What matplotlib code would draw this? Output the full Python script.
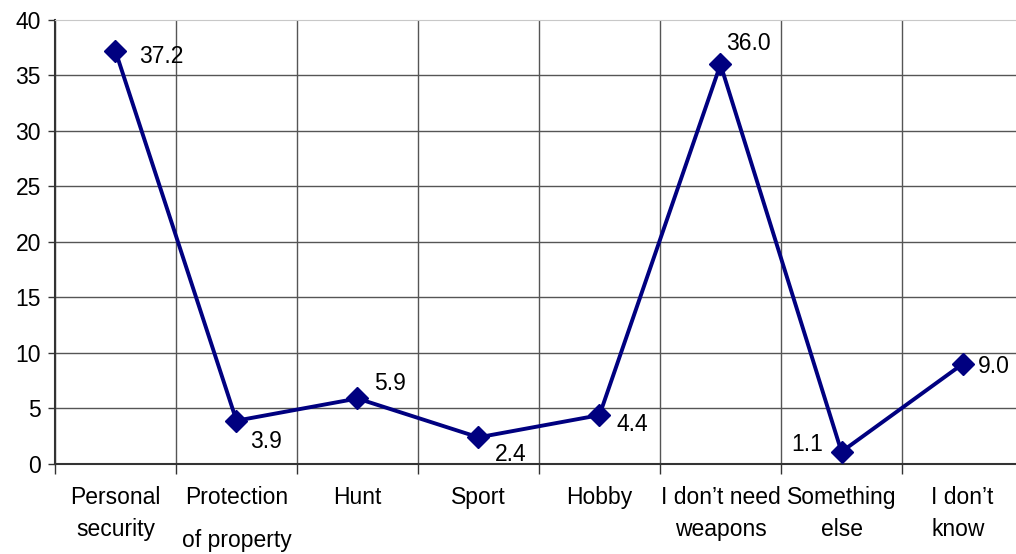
import numpy as np
import matplotlib
matplotlib.use("Agg")
from matplotlib import pyplot as plt

plt.rcParams['font.family'] = ['Liberation Sans', 'DejaVu Sans']

categories = ["Personal\nsecurity", "Protection\nof property", "Hunt", "Sport", "Hobby",
              "I don\u2019t need\nweapons", "Something\nelse", "I don\u2019t\nknow"]
values = [37.2, 3.9, 5.9, 2.4, 4.4, 36.0, 1.1, 9.0]
y_ticks = [0, 5, 10, 15, 20, 25, 30, 35, 40]

# where each value label sits relative to its point (offset points)
label_offsets = [(17, -4), (10, -15), (12, 11), (12, -12), (12, -7), (4, 15), (-36, 5), (11, -2)]

fig = plt.figure(figsize=(10.16, 5.54), dpi=100)
ax = fig.add_axes([0.0541, 0.1625, 0.9528, 0.8014])

x = np.arange(len(values))
ax.plot(x, values, color='#000080', lw=2.8, marker='D', markersize=11, zorder=3, clip_on=False)

for xi, v, off in zip(x, values, label_offsets):
    ax.annotate(f"{v:.1f}", (xi, v), xytext=off, textcoords='offset points',
                ha='left', va='center', fontsize=16.5, color='black')

ax.set_xlim(-0.5, len(values) - 0.5)
ax.set_ylim(0, 40)
ax.set_yticks(y_ticks)
ax.tick_params(axis='y', labelsize=16.5, length=5, width=1, color='#333333', pad=5)

# major ticks on boundaries, labels on minor ticks at centers
ax.set_xticks(np.arange(-0.5, len(values) + 0.5, 1))
ax.set_xticklabels([])
ax.tick_params(axis='x', which='major', length=7, width=1, color='#333333')
ax.set_xticks(x, minor=True)
ax.set_xticklabels(categories, minor=True, fontsize=16.5)
ax.tick_params(axis='x', which='minor', length=0, pad=16)
for i, t in enumerate(ax.get_xticklabels(minor=True)):
    t.set_linespacing(1.5)
    if i == 1:
        t.set_linespacing(2.1)
    if i == 7:
        t.set_multialignment('left')

ax.grid(True, which='major', color='#555555', lw=1)
ax.get_ygridlines()[-1].set_visible(False)

for s in ['left', 'bottom']:
    ax.spines[s].set_color('#333333')
    ax.spines[s].set_linewidth(1.5)
ax.spines['top'].set_color('#c8c8c8')
ax.spines['right'].set_visible(False)

fig.savefig("out.png", dpi=100)
